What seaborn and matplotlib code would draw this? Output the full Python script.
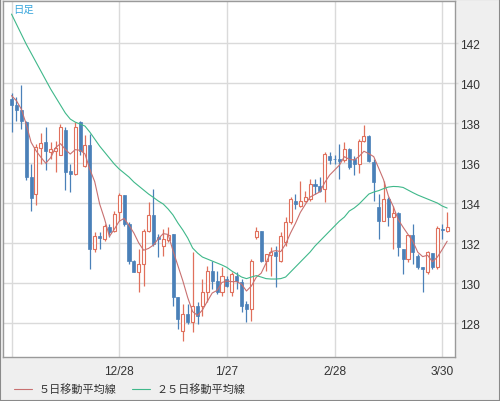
import numpy as np
import pandas as pd
import seaborn as sns
import matplotlib.pyplot as plt
from matplotlib.patches import Rectangle

# daily candles (oldest -> newest)
opens = [139.2, 138.9, 138.67, 138.07, 135.3, 134.47, 136.77, 137.05, 136.55, 136.6,
         136.42, 137.63, 135.58, 135.47, 138.05, 135.85, 136.92, 131.7, 132.37, 132.2,
         132.78, 132.62, 133.53, 134.4, 132.95, 131.12, 130.57, 130.95, 132.62, 133.4,
         132.3, 131.87, 132.17, 132.45, 129.28, 127.62, 128.45, 128.07, 128.87, 128.87,
         129.53, 130.62, 130.12, 129.53, 130.2, 129.53, 130.37, 130.03, 128.95, 128.7,
         132.28, 132.62, 131.12, 131.4, 131.53, 131.12, 132.03, 133.03, 134.12, 133.87,
         134.12, 134.2, 134.95, 134.87, 134.7, 136.33, 136.22, 136.2, 136.15, 136.7,
         136.2, 135.95, 137.12, 137.37, 136.03, 133.78, 133.12, 134.2, 133.28, 133.48,
         131.7, 131.2, 132.4, 131.37, 130.78, 130.53, 131.5, 130.78, 132.72, 132.62]
highs = [139.5, 139.3, 139.9, 138.1, 135.95, 136.97, 137.5, 137.8, 137.05, 137.1,
         137.97, 137.8, 135.97, 138.05, 138.1, 137.4, 137.47, 132.55, 132.55, 132.95,
         132.95, 133.62, 134.5, 134.42, 133.03, 131.15, 131.7, 132.7, 134.03, 134.7,
         132.45, 132.7, 132.78, 132.47, 129.3, 128.95, 128.95, 131.53, 129.03, 130.2,
         130.87, 131.12, 130.62, 130.78, 130.37, 130.53, 130.53, 130.2, 129.12, 131.2,
         132.78, 132.62, 131.45, 131.78, 131.87, 132.53, 133.28, 134.28, 134.45, 135.12,
         134.62, 135.2, 135.2, 135.28, 136.53, 136.53, 136.4, 136.95, 137.03, 136.75,
         136.37, 137.2, 137.9, 137.4, 136.2, 134.45, 135.12, 134.28, 133.87, 133.53,
         131.72, 132.42, 132.95, 131.45, 130.8, 131.62, 131.52, 132.87, 132.95, 133.53]
lows = [137.55, 138.1, 137.7, 135.15, 133.6, 133.9, 135.97, 135.65, 136.2, 135.55,
        136.4, 134.63, 134.55, 135.4, 136.4, 135.8, 130.7, 131.55, 131.7, 132.1,
        132.28, 132.53, 133.1, 132.87, 130.95, 130.55, 129.53, 129.87, 132.55, 131.87,
        131.3, 131.37, 132.03, 128.87, 127.7, 127.12, 127.95, 127.53, 127.95, 128.37,
        129.03, 129.7, 129.45, 129.37, 129.78, 129.37, 129.7, 128.53, 128.03, 128.12,
        132.2, 131.03, 130.62, 130.37, 129.78, 131.03, 131.87, 132.95, 133.7, 133.78,
        134.03, 134.12, 134.45, 134.53, 134.03, 135.95, 135.95, 135.2, 136.05, 135.7,
        135.4, 135.5, 137.03, 136.03, 134.12, 132.2, 133.1, 132.87, 131.7, 131.37,
        130.45, 131.03, 130.95, 130.7, 129.53, 130.45, 130.7, 130.7, 132.2, 132.53]
closes = [138.9, 138.65, 138.1, 135.3, 134.25, 136.8, 137.0, 136.58, 136.7, 136.75,
          137.8, 135.55, 135.45, 137.8, 136.58, 136.92, 131.68, 132.37, 132.25, 132.83,
          132.53, 133.45, 134.4, 132.95, 131.12, 130.57, 130.95, 132.62, 133.4, 131.95,
          132.2, 132.2, 132.4, 129.28, 128.2, 128.45, 128.03, 128.87, 128.37, 129.53,
          130.62, 130.12, 129.53, 130.37, 129.87, 130.45, 130.12, 128.87, 128.7, 131.12,
          132.62, 131.12, 131.45, 131.55, 131.37, 132.37, 133.03, 134.2, 133.95, 134.12,
          134.28, 134.95, 134.83, 134.62, 136.45, 136.17, 136.18, 136.1, 136.7, 135.8,
          135.95, 137.12, 137.37, 136.12, 135.03, 133.12, 134.2, 133.28, 133.48, 131.78,
          131.2, 132.4, 131.53, 130.78, 130.7, 131.53, 130.78, 132.73, 132.65, 132.78]

ma5 = [139.37, 139.12, 138.7, 137.95, 137.04, 136.62, 136.29, 135.99, 136.27, 136.77,
       136.97, 136.68, 136.45, 136.67, 136.64, 136.46, 135.69, 135.07, 133.96, 133.21,
       132.33, 132.69, 133.09, 133.23, 132.89, 132.50, 132.00, 131.64, 131.73, 131.90,
       132.22, 132.47, 132.43, 131.61, 130.86, 130.11, 129.27, 128.57, 128.38, 128.65,
       129.08, 129.50, 129.63, 130.03, 130.10, 130.07, 130.07, 129.94, 129.60, 129.85,
       130.29, 130.49, 131.00, 131.57, 131.62, 131.57, 131.95, 132.50, 132.98, 133.53,
       133.92, 134.30, 134.43, 134.56, 135.03, 135.40, 135.65, 135.90, 136.32, 136.19,
       136.15, 136.33, 136.59, 136.47, 136.32, 135.75, 135.17, 134.35, 133.82, 133.17,
       132.79, 132.43, 132.08, 131.54, 131.32, 131.39, 131.06, 131.30, 131.68, 132.09]
ma25 = [143.45, 142.95, 142.45, 141.95, 141.5, 141.05, 140.6, 140.15, 139.7, 139.3,
        138.9, 138.5, 138.2, 138.05, 137.95, 137.85, 137.55, 137.2, 136.85, 136.55,
        136.25, 135.95, 135.7, 135.5, 135.3, 135.05, 134.85, 134.65, 134.45, 134.28,
        134.1, 133.95, 133.7, 133.4, 133.0, 132.65, 132.25, 131.75, 131.5, 131.3,
        131.2, 131.1, 131.0, 130.9, 130.78, 130.6, 130.45, 130.3, 130.22, 130.3,
        130.37, 130.3, 130.22, 130.2, 130.2, 130.22, 130.3, 130.55, 130.8, 131.05,
        131.3, 131.55, 131.85, 132.1, 132.35, 132.6, 132.85, 133.1, 133.3, 133.6,
        133.75, 133.95, 134.2, 134.45, 134.55, 134.62, 134.72, 134.8, 134.83, 134.82,
        134.78, 134.65, 134.52, 134.4, 134.3, 134.2, 134.1, 134.0, 133.85, 133.75]

tick_labels = ['', '12/28', '1/27', '2/28', '3/30']
tick_idx = [0, 22, 44, 66, 88]
y_ticks = [128, 130, 132, 134, 136, 138, 140, 142]

UP = '#e0705c'
DOWN = '#4a80b8'
GRID = '#dadada'

df = pd.DataFrame({'open': opens, 'high': highs, 'low': lows, 'close': closes,
                   'ma5': ma5, 'ma25': ma25})
df['idx'] = np.arange(len(df))
up = df[df['close'] >= df['open']]
down = df[df['close'] < df['open']]

sns.set_style('white')
plt.rcParams['font.family'] = ['Liberation Sans', 'DejaVu Sans']

fig = plt.figure(figsize=(5.0, 4.02), dpi=100, facecolor='#efefef')
ax = fig.add_axes([2.5 / 500, 1 - 358 / 402, 452.5 / 500, 356.5 / 402])
ax.set_facecolor('white')

# wicks
ax.vlines(up['idx'], up['low'], up['high'], color=UP, linewidth=0.9, zorder=2)
ax.vlines(down['idx'], down['low'], down['high'], color=DOWN, linewidth=0.9, zorder=2)
# bodies
ax.bar(up['idx'], (up['close'] - up['open']).clip(lower=0.04), bottom=up['open'],
       width=0.62, facecolor='white', edgecolor=UP, linewidth=0.8, zorder=3)
ax.bar(down['idx'], (down['open'] - down['close']).clip(lower=0.04), bottom=down['close'],
       width=0.62, facecolor=DOWN, edgecolor=DOWN, linewidth=0.5, zorder=3)

# moving averages
sns.lineplot(data=df, x='idx', y='ma5', ax=ax, color='#c87070', linewidth=0.8,
             label='５日移動平均線', zorder=4)
sns.lineplot(data=df, x='idx', y='ma25', ax=ax, color='#3fb88a', linewidth=0.8,
             label='２５日移動平均線', zorder=4)

ax.set_xlim(-1.84, 90.6)
ax.set_ylim(126.3, 144.13)
ax.set_xticks(tick_idx)
ax.set_xticklabels(tick_labels)
ax.set_yticks(y_ticks)
ax.yaxis.tick_right()
ax.set_xlabel('')
ax.set_ylabel('')
ax.grid(True, color=GRID, linewidth=1.0, zorder=0)
ax.set_axisbelow(True)
ax.tick_params(axis='x', length=0, pad=6, labelsize=8.6, labelcolor='#333333')
ax.tick_params(axis='y', length=2, width=1, color=GRID, pad=1.5,
               labelsize=8.6, labelcolor='#333333')
for s in ax.spines.values():
    s.set_color('#9a9a9a')
    s.set_linewidth(1.0)

handles, labels = ax.get_legend_handles_labels()
ax.get_legend().remove()
fig.legend(handles, labels, loc='center left', bbox_to_anchor=(14 / 500, 1 - 390 / 402),
           ncol=2, frameon=False, borderpad=0, borderaxespad=0,
           handlelength=1.6, handletextpad=0.6, columnspacing=1.4,
           prop={'family': ['Noto Sans CJK JP', 'DejaVu Sans'], 'size': 8})
for t in fig.legends[0].get_texts():
    t.set_color('#333333')

fig.text(13 / 500, 1 - 10 / 402, '日足', color='#3aa6dc', fontsize=7.5,
         va='center', ha='left', family=['Noto Sans CJK JP', 'DejaVu Sans'])

fig.patches.append(Rectangle((0, 0), 1, 1, transform=fig.transFigure, fill=False,
                             edgecolor='#8a8a8a', linewidth=1.5))

fig.savefig('out.png', dpi=100, facecolor=fig.get_facecolor())
